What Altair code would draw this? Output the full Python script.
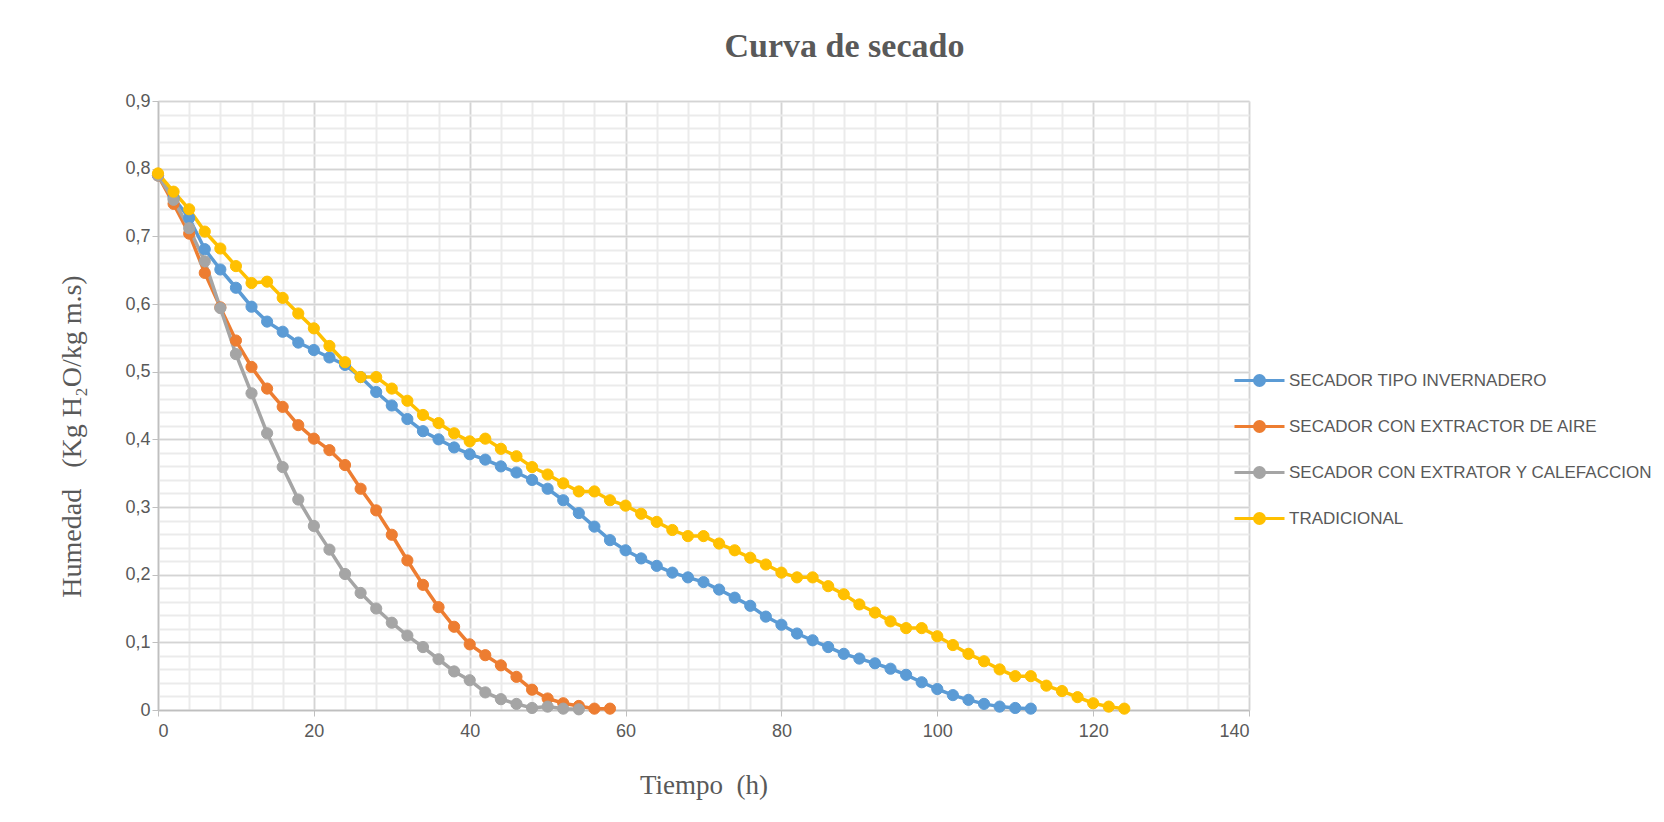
import altair as alt
import pandas as pd

# ---------------- data ----------------
series_names = [
    "SECADOR TIPO INVERNADERO",
    "SECADOR CON EXTRACTOR DE AIRE",
    "SECADOR CON EXTRATOR Y CALEFACCION",
    "TRADICIONAL",
]
series_colors = ["#5B9BD5", "#ED7D31", "#A5A5A5", "#FFC000"]

invernadero = [0.790, 0.757, 0.727, 0.681, 0.651, 0.624, 0.596, 0.574, 0.559, 0.543,
               0.532, 0.521, 0.510, 0.492, 0.470, 0.450, 0.430, 0.412, 0.400, 0.388,
               0.378, 0.370, 0.360, 0.351, 0.340, 0.327, 0.310, 0.291, 0.271, 0.251,
               0.236, 0.224, 0.213, 0.203, 0.196, 0.189, 0.178, 0.166, 0.154, 0.138,
               0.126, 0.113, 0.103, 0.093, 0.083, 0.076, 0.069, 0.061, 0.052, 0.041,
               0.031, 0.022, 0.015, 0.009, 0.005, 0.003, 0.002]
extractor = [0.790, 0.748, 0.704, 0.646, 0.595, 0.546, 0.507, 0.475, 0.448, 0.421,
             0.401, 0.384, 0.362, 0.327, 0.295, 0.259, 0.221, 0.185, 0.152, 0.123,
             0.097, 0.081, 0.066, 0.049, 0.030, 0.017, 0.010, 0.006, 0.002, 0.002]
calefaccion = [0.790, 0.754, 0.712, 0.663, 0.594, 0.526, 0.468, 0.409, 0.359, 0.311,
               0.272, 0.237, 0.201, 0.173, 0.150, 0.129, 0.110, 0.093, 0.075, 0.057,
               0.044, 0.026, 0.016, 0.009, 0.003, 0.005, 0.002, 0.001]
tradicional = [0.793, 0.766, 0.740, 0.707, 0.682, 0.656, 0.631, 0.633, 0.609, 0.586,
               0.564, 0.538, 0.514, 0.492, 0.492, 0.475, 0.457, 0.436, 0.424, 0.409,
               0.397, 0.401, 0.386, 0.375, 0.359, 0.348, 0.335, 0.323, 0.323, 0.310,
               0.302, 0.290, 0.278, 0.266, 0.257, 0.257, 0.246, 0.236, 0.225, 0.215,
               0.203, 0.196, 0.196, 0.183, 0.171, 0.156, 0.144, 0.131, 0.121, 0.121,
               0.109, 0.096, 0.083, 0.072, 0.060, 0.050, 0.050, 0.036, 0.028, 0.019,
               0.010, 0.005, 0.002]

time_step = 2  # hours between measurements

x_major_ticks = [0, 20, 40, 60, 80, 100, 120, 140]
x_minor_ticks = list(range(0, 141, 4))
y_major_ticks = [0, 0.1, 0.2, 0.3, 0.4, 0.5, 0.6, 0.7, 0.8, 0.9]
y_minor_ticks = [round(i * 0.02, 2) for i in range(46)]

rows = []
for name, vals in zip(series_names, [invernadero, extractor, calefaccion, tradicional]):
    for i, v in enumerate(vals):
        rows.append({"t": i * time_step, "h": v, "serie": name, "order": i})
df = pd.DataFrame(rows)

# ---------------- styling ----------------
TXT = "#595959"
SANS = "Liberation Sans, Arial"
SERIF = "Liberation Serif, Times New Roman, serif"
NB = "\u00a0"

x_scale = alt.Scale(domain=[0, 140], nice=False, zero=True)
y_scale = alt.Scale(domain=[0, 0.9], nice=False, zero=True)
color_scale = alt.Scale(domain=series_names, range=series_colors)

legend_path = ("M-1,0L1,0M-0.2,0A0.2,0.2,0,1,1,0.2,0"
               "A0.2,0.2,0,1,1,-0.2,0Z")
legend = alt.Legend(
    title=None,
    orient="none",
    legendX=1075,
    legendY=253,
    symbolType=legend_path,
    symbolSize=2500,
    symbolStrokeWidth=3,
    symbolOpacity=1,
    labelFont=SANS,
    labelFontSize=17,
    labelColor=TXT,
    labelOffset=3,
    labelLimit=450,
    rowPadding=8,
)

label_expr = "datum.value == 0 ? '0' : replace(format(datum.value, '.1f'), '.', ',')"

x_axis = alt.Axis(
    values=x_major_ticks, grid=True, gridColor="#d4d4d4", gridWidth=1.5,
    domainColor="#bfbfbf", domainWidth=1.5, tickColor="#bfbfbf", tickSize=6,
    labelFont=SANS, labelFontSize=18, labelColor=TXT, labelPadding=6,
    title=f"Tiempo{NB}{NB}(h)", titleFont=SERIF, titleFontSize=27, titleFontWeight="normal",
    titleColor=TXT, titleY=75, titleBaseline="middle",
)
y_axis = alt.Axis(
    values=y_major_ticks, grid=True, gridColor="#d4d4d4", gridWidth=1.5,
    domainColor="#bfbfbf", domainWidth=1.5, tickColor="#bfbfbf", tickSize=6,
    labelFont=SANS, labelFontSize=18, labelColor=TXT, labelPadding=2,
    labelExpr=label_expr,
    title=f"Humedad{NB}{NB}{NB}(Kg H₂O/kg m.s)", titleFont=SERIF, titleFontSize=28,
    titleFontWeight="normal", titleColor=TXT, titleAngle=270,
    titleX=-86, titleY=335, titleAlign="center", titleBaseline="middle",
)

minor_x_axis = alt.Axis(values=x_minor_ticks, grid=True, gridColor="#ebebeb",
                        gridWidth=2, labels=False, ticks=False, domain=False,
                        orient="top", title=None)
minor_y_axis = alt.Axis(values=y_minor_ticks, grid=True, gridColor="#ebebeb",
                        gridWidth=2, labels=False, ticks=False, domain=False,
                        orient="right", title=None)

grid_layer = alt.Chart(df).mark_point(opacity=0).encode(
    x=alt.X("t:Q", scale=x_scale, axis=minor_x_axis),
    y=alt.Y("h:Q", scale=y_scale, axis=minor_y_axis),
)

xenc = alt.X("t:Q", scale=x_scale, axis=x_axis)
yenc = alt.Y("h:Q", scale=y_scale, axis=y_axis)

lines = alt.Chart(df).mark_line(strokeWidth=3.5).encode(
    x=xenc, y=yenc,
    color=alt.Color("serie:N", scale=color_scale, legend=legend),
    order="order:Q",
)
points = alt.Chart(df).mark_point(filled=True, size=125, opacity=1, strokeWidth=1).encode(
    x=xenc, y=yenc,
    color=alt.Color("serie:N", scale=color_scale, legend=legend),
    stroke=alt.Stroke("serie:N", scale=color_scale, legend=legend),
)

chart = alt.layer(grid_layer, alt.layer(lines, points)).resolve_axis(
    x="independent", y="independent"
).properties(
    width=1091,
    height=609,
    autosize=alt.AutoSizeParams(type="none"),
    padding={"left": 150, "top": 93, "right": 407, "bottom": 95},
    title=alt.TitleParams(
        "Curva de secado", font=SERIF, fontSize=34, fontWeight="bold",
        color=TXT, anchor="middle", dx=141, offset=28,
    ),
).configure_view(strokeWidth=0).configure(background="white")

chart.save("out.html", embed_options={"renderer": "svg", "actions": False})
